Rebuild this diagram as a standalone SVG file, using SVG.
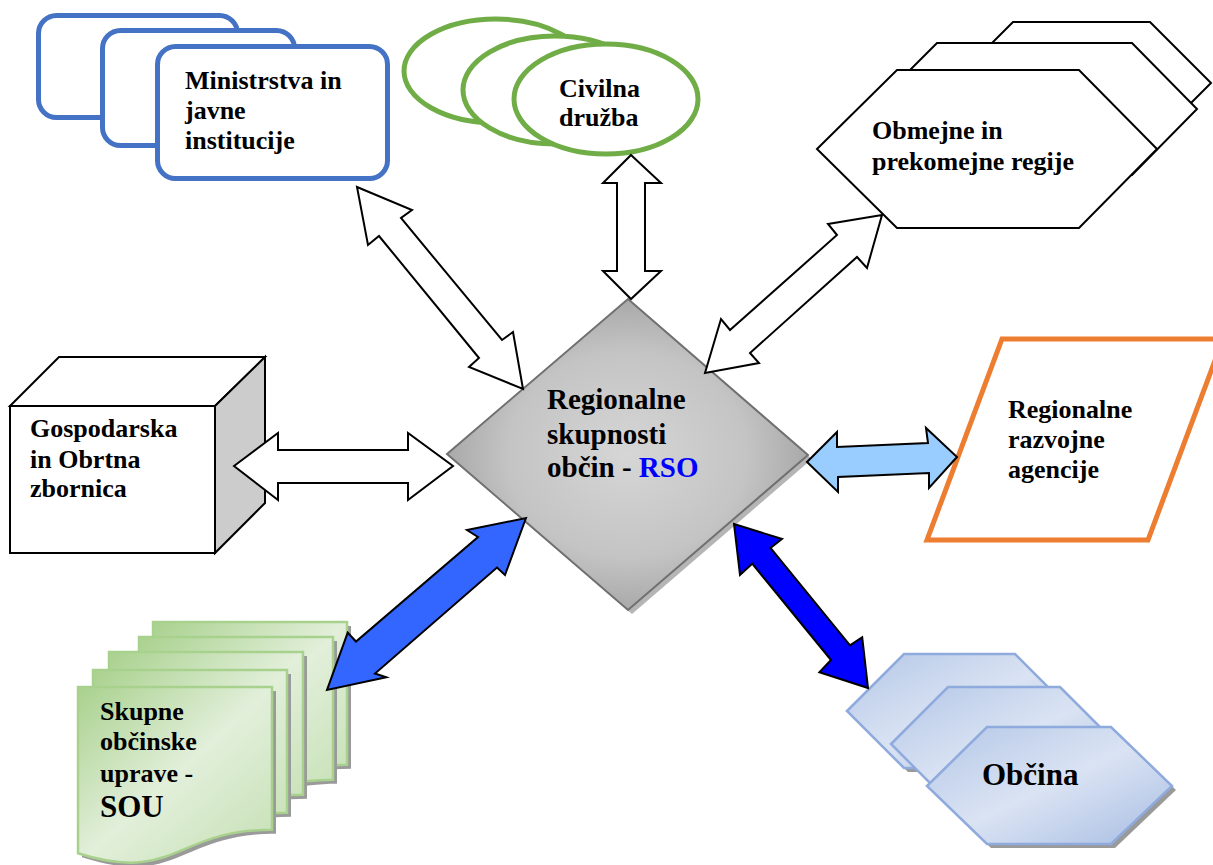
<svg xmlns="http://www.w3.org/2000/svg" width="1213" height="865" viewBox="0 0 1213 865" font-family="'Liberation Serif', 'DejaVu Serif', serif">
<style>
.t{font-family:'Liberation Serif','DejaVu Serif',serif;font-weight:bold;font-size:26px;fill:#000}
.big{font-size:31px}
.mid{font-size:29px}
.blue{stroke:#4472C4;stroke-width:5;fill:#fff}
.green{stroke:#70AD47;stroke-width:5;fill:#fff}
.hexw{stroke:#000;stroke-width:2;fill:#fff;stroke-linejoin:miter}
.wa{fill:#fff;stroke:#000;stroke-width:2;stroke-linejoin:miter}
.doc{fill:url(#gGreen);stroke:#A9D18E;stroke-width:2.5}
.docsh{fill:#9a9a9a}
.hexb{fill:url(#gBlue);stroke:#8FAADC;stroke-width:2.5}
.hexsh{fill:#9a9a9a}
</style>
<defs>
<radialGradient id="gGray" cx="0.5" cy="0.5" r="0.6">
<stop offset="0" stop-color="#d6d6d6"/>
<stop offset="0.55" stop-color="#c4c4c4"/>
<stop offset="1" stop-color="#999"/>
</radialGradient>
<linearGradient id="gGreen" x1="0" y1="0" x2="1" y2="1">
<stop offset="0" stop-color="#A9D18E"/>
<stop offset="0.5" stop-color="#E2EFDA"/>
<stop offset="1" stop-color="#C5E0B4"/>
</linearGradient>
<linearGradient id="gBlue" x1="0" y1="0" x2="1" y2="1">
<stop offset="0" stop-color="#B4C7E7"/>
<stop offset="0.5" stop-color="#DAE3F3"/>
<stop offset="1" stop-color="#A7BDE3"/>
</linearGradient>
<path id="docp" d="M0,0 H194 V142.7 C97,142.7 97,197.1 0,166.3 Z"/>
</defs>

<g id="ministrstva">
<rect class="blue" x="38.5" y="15.5" width="199" height="102" rx="18"/>
<rect class="blue" x="102.5" y="30.5" width="192" height="115" rx="18"/>
<rect class="blue" x="157.5" y="46.5" width="230" height="132" rx="18"/>
<text class="t" x="185" y="89">Ministrstva in</text>
<text class="t" x="185" y="119">javne</text>
<text class="t" x="185" y="149">institucije</text>
</g>

<g id="civilna">
<ellipse class="green" cx="496" cy="71" rx="92" ry="52"/>
<ellipse class="green" cx="555" cy="90" rx="92" ry="54"/>
<ellipse class="green" cx="606" cy="99" rx="92" ry="55"/>
<text class="t" x="559" y="97">Civilna</text>
<text class="t" x="559" y="126">družba</text>
</g>

<g id="obmejne">
<polygon class="hexw" points="952,83 1013,22 1150,22 1211,83 1150,144 1013,144"/>
<polygon class="hexw" points="871,109 937,43 1132,43 1197,109 1132,175 937,175"/>
<polygon class="hexw" points="817,149 897,70 1079,70 1157,149 1079,228 897,228"/>
<text class="t" x="872" y="139">Obmejne in</text>
<text class="t" x="872" y="170">prekomejne regije</text>
</g>

<g id="gospodarska">
<polygon points="10,406 59,357 265,357 215,406" fill="#fff" stroke="#000" stroke-width="2"/>
<polygon points="215,406 265,357 265,503 215,553" fill="#cccccc" stroke="#000" stroke-width="2"/>
<rect x="10" y="406" width="205" height="147" fill="#fff" stroke="#000" stroke-width="2"/>
<text class="t" x="30" y="437">Gospodarska</text>
<text class="t" x="30" y="468">in Obrtna</text>
<text class="t" x="30" y="497">zbornica</text>
</g>

<g id="rra">
<polygon points="1002,339 1223,339 1148,540 927,540" fill="#fff" stroke="#ED7D31" stroke-width="5"/>
<text class="t" x="1008" y="418">Regionalne</text>
<text class="t" x="1008" y="448">razvojne</text>
<text class="t" x="1008" y="478">agencije</text>
</g>

<g id="sou">
<use href="#docp" class="docsh" x="157" y="626"/>
<use href="#docp" class="doc" x="153" y="622"/>
<use href="#docp" class="docsh" x="143" y="641"/>
<use href="#docp" class="doc" x="139" y="637"/>
<use href="#docp" class="docsh" x="113" y="656"/>
<use href="#docp" class="doc" x="109" y="652"/>
<use href="#docp" class="docsh" x="97" y="674"/>
<use href="#docp" class="doc" x="93" y="670"/>
<use href="#docp" class="docsh" x="82" y="691"/>
<use href="#docp" class="doc" x="78" y="687"/>
<text class="t" x="100" y="720">Skupne</text>
<text class="t" x="100" y="750">občinske</text>
<text class="t" x="100" y="782">uprave -</text>
<text class="t big" x="100" y="817">SOU</text>
</g>

<g id="obcina">
<polygon class="hexsh" points="851,715 908,658 1019,658 1076,715 1019,772 908,772"/>
<polygon class="hexb" points="847,711 904,654 1015,654 1072,711 1015,768 904,768"/>
<polygon class="hexsh" points="895,748 952,691 1064,691 1121,748 1064,805 952,805"/>
<polygon class="hexb" points="891,744 948,687 1060,687 1117,744 1060,801 948,801"/>
<polygon class="hexsh" points="931,790 991,731 1115,731 1176,790 1115,848 991,848"/>
<polygon class="hexb" points="927,786 987,727 1111,727 1172,786 1111,844 987,844"/>
<text class="t big" x="982" y="785">Občina</text>
</g>

<g id="rso">
<polygon points="632,303 812,459 632,614 451,458" fill="#b5b5b5"/>
<polygon points="628,299 808,455 628,610 447,454" fill="url(#gGray)" stroke="#707070" stroke-width="2"/>
<text class="t mid" x="547" y="409">Regionalne</text>
<text class="t mid" x="547" y="444">skupnosti</text>
<text class="t mid" x="547" y="477">občin - <tspan fill="#0000FF">RSO</tspan></text>
</g>

<g id="connectors">
<polygon class="wa" points="357,187 412,210 401,218 502,340 513,332 523,389 469,367 479,358 379,236 368,245"/>
<polygon class="wa" points="631,155 661,183 645,183 645,271 661,271 631,299 603,271 617,271 617,183 603,183"/>
<polygon class="wa" points="882,215 828,224 837,235 730,330 721,319 705,373 759,363 750,353 857,257 867,268"/>
<polygon class="wa" points="234,466 278,433 278,450 408,450 408,433 453,466 408,500 408,483 278,483 278,500"/>
<polygon points="807,462 837,432 837,447 928,443 926,428 957,457 929,488 929,473 838,477 838,492" fill="#99CCFF" stroke="#000" stroke-width="2" stroke-linejoin="miter"/>
<polygon points="526,518 505,575 497,567.5 375,673.5 386.3,677.3 327,690 347.7,632.7 356,641.5 478,537 467,530" fill="#3366FF" stroke="#000" stroke-width="2" stroke-linejoin="miter"/>
<polygon points="734,524 782,539 770.5,548 850,645.3 862.2,637.2 868,688 819.4,672.2 831,660 752.2,563.7 740,575" fill="#0000FF" stroke="#000" stroke-width="2" stroke-linejoin="miter"/>
</g>
</svg>
